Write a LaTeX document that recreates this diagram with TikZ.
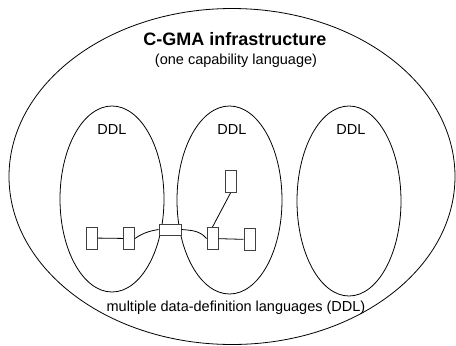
\documentclass[tikz,border=0pt]{standalone}
\usepackage{fontspec}
\setmainfont{Liberation Sans}
\begin{document}
\begin{tikzpicture}[x=1pt,y=-1pt,
  ring/.style={draw=black,line width=0.8pt},
  vbox/.style={draw=black!75,line width=1pt,fill=white,inner sep=0pt,minimum width=11pt,minimum height=22pt},
  hbox/.style={draw=black!75,line width=1pt,fill=white,inner sep=0pt,minimum width=22pt,minimum height=11pt},
  link/.style={draw=black,line width=0.8pt},
  lbl/.style={inner sep=0pt,font=\fontsize{14.5}{16}\selectfont}]
\useasboundingbox (0,0) rectangle (456,346);
% outer infrastructure and the three DDL regions
\draw[ring] (232,176.5) ellipse [x radius=223, y radius=168];
\draw[ring] (112,199) ellipse [x radius=52, y radius=93];
\draw[ring] (229.5,200) ellipse [x radius=52.5, y radius=94];
\draw[ring] (349,201) ellipse [x radius=52, y radius=95];
% labels
\node[inner sep=0pt,font=\fontsize{18}{20}\bfseries] (title) at (235,39) {C-GMA infrastructure};
\node[lbl] (sub) at (236,61) {(one capability language)};
\node[lbl] (d1) at (112,130) {DDL};
\node[lbl] (d2) at (232,130) {DDL};
\node[lbl] (d3) at (351,130) {DDL};
\node[lbl] (bottom) at (236,308) {multiple data-definition languages (DDL)};
% data-definition boxes and their links
\node[vbox] (b1) at (91.5,238) {};
\node[vbox] (b2) at (129,238.5) {};
\node[hbox] (b3) at (170,229.5) {};
\node[vbox] (b4) at (212.5,238.5) {};
\node[vbox] (b5) at (249.5,239.5) {};
\node[vbox] (b6) at (230.5,181.5) {};
\draw[link] (b1) -- (b2);
\draw[link] (b4) -- (b5);
\draw[link] (b2.east) to[out=35,in=190] (b3.west);
\draw[link] (b3.east) to[out=-5,in=130] (b4.west);
\draw[link] (b6.south) -- (b4.north);
\end{tikzpicture}
\end{document}
